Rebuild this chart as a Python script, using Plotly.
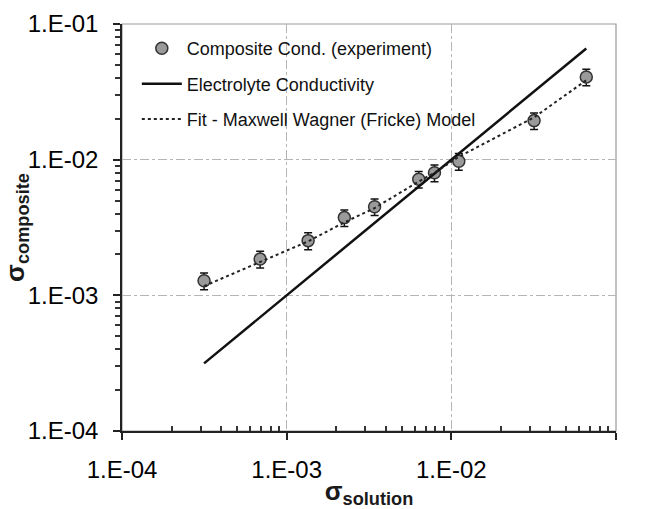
import plotly.graph_objects as go

# data
sol_x = [3.15e-4, 6.9e-4, 1.35e-3, 2.24e-3, 3.42e-3, 6.34e-3, 7.9e-3, 1.11e-2, 3.18e-2, 6.6e-2]
comp_y = [1.28e-3, 1.85e-3, 2.53e-3, 3.74e-3, 4.5e-3, 7.17e-3, 8.0e-3, 9.73e-3, 1.94e-2, 4.07e-2]
comp_err = [1.8e-4, 2.6e-4, 3.6e-4, 5.2e-4, 6.3e-4, 1.0e-3, 1.12e-3, 1.36e-3, 2.7e-3, 5.7e-3]
elec_x = [3.15e-4, 6.6e-2]
elec_y = [3.15e-4, 6.6e-2]
fit_x = [3.15e-4, 6.9e-4, 1.35e-3, 2.24e-3, 3.42e-3, 6.34e-3, 7.9e-3, 1.11e-2, 3.18e-2, 6.6e-2]
fit_y = [1.17e-3, 1.76e-3, 2.5e-3, 3.45e-3, 4.4e-3, 6.9e-3, 8.0e-3, 1.05e-2, 2.05e-2, 3.85e-2]
tick_vals = [1e-4, 1e-3, 1e-2, 1e-1]
tick_text = ["1.E-04", "1.E-03", "1.E-02", "1.E-01"]

minor_vals = [m * d for d in [1e-4, 1e-3, 1e-2] for m in range(2, 10)]

FONT = "Liberation Sans, Arial, sans-serif"
TXT = "#1a1a1a"

fig = go.Figure()
fig.add_trace(go.Scatter(
    x=sol_x, y=comp_y, mode="markers", name="Composite Cond. (experiment)",
    legendgroup="a",
    marker=dict(size=12, color="#9a9a9a", line=dict(color="#333333", width=1.5)),
    error_y=dict(type="data", array=comp_err, color="#111111", thickness=1.5, width=4),
))
fig.add_trace(go.Scatter(
    x=elec_x, y=elec_y, mode="lines", name="Electrolyte Conductivity",
    legendgroup="b", line=dict(color="#111111", width=2.5),
))
fig.add_trace(go.Scatter(
    x=fit_x, y=fit_y, mode="lines", name="Fit - Maxwell Wagner (Fricke) Model",
    legendgroup="c", line=dict(color="#222222", width=2, dash="dot"),
))

axis_common = dict(
    type="log", tickvals=tick_vals, ticktext=tick_text,
    showline=True, linecolor="#222222", linewidth=1.5,
    ticks="outside", ticklen=7, tickwidth=1.5, tickcolor="#222222",
    showgrid=True, gridcolor="#b5b5b5", gridwidth=1, griddash="dashdot",
    tickfont=dict(family=FONT, size=24, color="#000000"),
    zeroline=False,
)

fig.update_xaxes(
    **axis_common, range=[-4, -1], ticklabelstandoff=9,
    minor=dict(tickvals=minor_vals, ticks="inside", ticklen=5, tickcolor="#333333", showgrid=False),
    title=dict(text="<b>σ<sub>solution</sub></b>", font=dict(family=FONT, size=26, color=TXT), standoff=6),
)
fig.update_yaxes(
    **axis_common, range=[-4, -1], ticklabelstandoff=10,
    minor=dict(tickvals=minor_vals, ticks="outside", ticklen=5, tickcolor="#333333", showgrid=False),
    title=dict(text="<b>σ<sub>composite</sub></b>", font=dict(family=FONT, size=26, color=TXT), standoff=2),
)

fig.add_shape(type="rect", xref="paper", yref="paper", x0=0, y0=0, x1=1, y1=1,
              line=dict(color="#9a9a9a", width=1.2), layer="below")

fig.update_layout(
    width=649, height=509,
    margin=dict(l=122, r=33, t=24, b=78, autoexpand=False),
    plot_bgcolor="white", paper_bgcolor="white",
    font=dict(family=FONT, color=TXT),
    showlegend=True,
    legend=dict(x=0.03, y=0.985, xanchor="left", yanchor="top",
                bgcolor="rgba(0,0,0,0)", font=dict(family=FONT, size=18, color="#111111"),
                tracegroupgap=9, itemwidth=40),
)

fig.write_html("out.html")
